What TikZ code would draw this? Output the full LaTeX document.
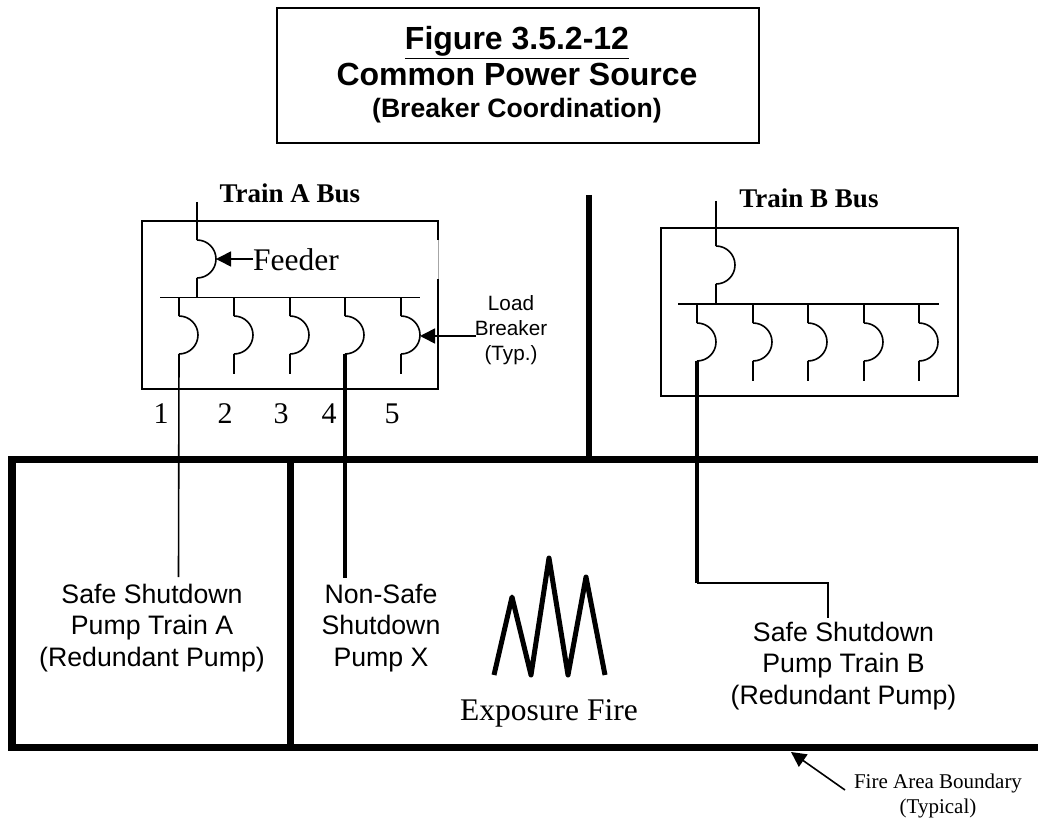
\documentclass[tikz,border=0pt]{standalone}
\usepackage{fontspec}
\setmainfont{Liberation Serif}
\newfontfamily\arialf{Liberation Sans}
\usetikzlibrary{arrows.meta}
\tikzset{
  x=1pt,y=-1pt,
  boxline/.style={draw=black,line width=1.8pt},
  wire/.style={draw=black,line width=1.6pt},
  heavywire/.style={draw=black,line width=3.4pt},
  wall/.style={draw=black,line width=7.7pt},
  lead/.style={draw=black,line width=1.6pt,-{Triangle[length=15pt,width=15pt]}},
  sanslabel/.style={font=\arialf\fontsize{26.7}{31.7}\selectfont,align=center,inner sep=0pt},
  seriflabel/.style={font=\fontsize{31.5}{34}\selectfont,inner sep=0pt},
  numlabel/.style={font=\fontsize{30}{34}\selectfont,inner sep=0pt},
  buslabel/.style={font=\bfseries\fontsize{27}{30}\selectfont,inner sep=0pt},
  smalllabel/.style={font=\arialf\fontsize{20.7}{25}\selectfont,align=center,inner sep=0pt},
  noteslabel/.style={font=\fontsize{21}{25}\selectfont,align=center,inner sep=0pt},
  breaker/.pic={
    \draw[wire] (0,0) .. controls (10.5,0) and (19,8.5) .. (19,19)
       .. controls (19,29.5) and (10.5,38) .. (0,38);
    \coordinate (-in) at (0,0);
    \coordinate (-mid) at (19,19);
    \coordinate (-out) at (0,38);
  }
}
\begin{document}
\begin{tikzpicture}
\useasboundingbox (0,0) rectangle (1038,821);
\fill[white] (0,0) rectangle (1038,821);

% title
\node[boxline,minimum width=482pt,minimum height=135pt,anchor=north west,inner sep=0pt] (titlebox) at (276,7.5) {};
\node[font=\arialf\bfseries\fontsize{32}{36}\selectfont,align=center,inner sep=0pt] (titletext) at (517,75)
  {\underline{Figure 3.5.2-12}\\Common Power Source\\[-4pt]{\fontsize{26.6}{30}\selectfont (Breaker Coordination)}};

% walls
\coordinate (wallTL) at (8.3,459.5);
\coordinate (wallTR) at (1038,459.5);
\coordinate (wallBL) at (8.3,747.5);
\coordinate (wallBR) at (1038,747.5);
\coordinate (wallMidT) at (589,195);
\coordinate (wallMidB) at (589,459.5);
\coordinate (wallInT) at (290.5,459.5);
\coordinate (wallInB) at (290.5,747.5);
\coordinate (wallLT) at (12,459.5);
\coordinate (wallLB) at (12,747.5);
\draw[wall] (wallTL) -- (wallTR);
\draw[wall] (wallBL) -- (wallBR);
\draw[wall] (wallLT) -- (wallLB);
\draw[wall] (wallInT) -- (wallInB);
\draw[wall,line width=6pt] (wallMidT) -- (wallMidB);

% Train A panel
\coordinate (aTR1) at (438,240);
\coordinate (aTR2) at (438,279);
\coordinate (aTL) at (142,221);
\coordinate (aBL) at (142,389);
\coordinate (aBR) at (438,389);
\coordinate (aTR) at (438,221);
\draw[boxline] (aTR1) -- (aTR) -- (aTL) -- (aBL) -- (aBR) -- (aTR2);
\draw[draw=black!35,line width=0.8pt] (aTR1) -- (aTR2);
\coordinate (aBusL) at (160,297.5);
\coordinate (aBusR) at (420,297.5);
\draw[wire] (aBusL) -- (aBusR);
\coordinate (aFeedTop) at (197,202);
\coordinate (aFeedBus) at (197,297.5);
\pic (aF) at (197,240) {breaker};
\draw[wire] (aFeedTop) -- (aF-in);
\draw[wire] (aF-out) -- (aFeedBus);
\foreach \n/\xx in {1/179,2/234,3/290,4/345,5/401}{
  \pic (a\n) at (\xx,316) {breaker};
  \coordinate (a\n top) at (\xx,297.5);
  \coordinate (a\n end) at (\xx,374);
  \draw[wire] (a\n top) -- (a\n-in);
}
\foreach \n in {2,3,5}{\draw[wire] (a\n-out) -- (a\n end);}

% Train B panel
\node[draw=black,line width=1.6pt,minimum width=297pt,minimum height=168pt,anchor=north west,inner sep=0pt] (bbox) at (660,227) {};
\coordinate (bBusL) at (678,304);
\coordinate (bBusR) at (939,304);
\draw[wire] (bBusL) -- (bBusR);
\coordinate (bFeedTop) at (716,201);
\coordinate (bFeedBus) at (716,304);
\pic (bF) at (716,246) {breaker};
\draw[wire] (bFeedTop) -- (bF-in);
\draw[wire] (bF-out) -- (bFeedBus);
\foreach \n/\xx in {1/697,2/753,3/808,4/864,5/919}{
  \pic (b\n) at (\xx,323) {breaker};
  \coordinate (b\n top) at (\xx,304);
  \coordinate (b\n end) at (\xx,381);
  \draw[wire] (b\n top) -- (b\n-in);
}
\foreach \n in {2,3,4,5}{\draw[wire] (b\n-out) -- (b\n end);}

% labels
\node[buslabel] (trainA) at (290,193) {Train A Bus};
\node[buslabel] (trainB) at (809,198) {Train B Bus};
\node[seriflabel,anchor=west] (feeder) at (253,260) {Feeder};
\coordinate (feederTail) at (253,259);
\draw[lead] (feederTail) -- (aF-mid);
\node[smalllabel] (load) at (511,330) {Load\\Breaker\\(Typ.)};
\coordinate (loadTail) at (476,336);
\coordinate (loadTip) at (420,336);
\draw[lead] (loadTail) -- (loadTip);
\node[numlabel] (n1) at (161,414) {1};
\node[numlabel] (n2) at (225,414) {2};
\node[numlabel] (n3) at (281,414) {3};
\node[numlabel] (n4) at (329,414) {4};
\node[numlabel] (n5) at (392,414) {5};

\node[sanslabel] (pumpA) at (152,628) {Safe Shutdown\\Pump Train A\\(Redundant Pump)};
\node[sanslabel] (pumpX) at (381,628) {Non-Safe\\Shutdown\\Pump X};
\node[sanslabel] (pumpB) at (843.5,666) {Safe Shutdown\\Pump Train B\\(Redundant Pump)};

\coordinate (a1stop) at (178.5,577);
\coordinate (a4stop) at (345,578);
\coordinate (bElbow1) at (697,583);
\coordinate (bElbow2) at (828,583);
\coordinate (bStop) at (828,618);
\draw[wire] (a1-out) -- (a1stop);
\draw[heavywire] (a4-out) -- (a4stop);
\draw[heavywire] (b1-out) -- (bElbow1);
\draw[wire] (bElbow1) -- (bElbow2) -- (bStop);

% fire
\coordinate (f1) at (494,675);
\coordinate (f2) at (512,597);
\coordinate (f3) at (531,675);
\coordinate (f4) at (549,558);
\coordinate (f5) at (568,675);
\coordinate (f6) at (586,577);
\coordinate (f7) at (605,675);
\draw[draw=black,line width=5pt,line join=round] (f1) -- (f2) -- (f3) -- (f4) -- (f5) -- (f6) -- (f7);
\node[seriflabel] (fire) at (549,713) {Exposure Fire};

% boundary note
\node[noteslabel] (note) at (938,796) {Fire Area Boundary\\(Typical)};
\coordinate (noteTail) at (845,790);
\coordinate (noteTip) at (791,752);
\draw[lead] (noteTail) -- (noteTip);
\end{tikzpicture}
\end{document}
